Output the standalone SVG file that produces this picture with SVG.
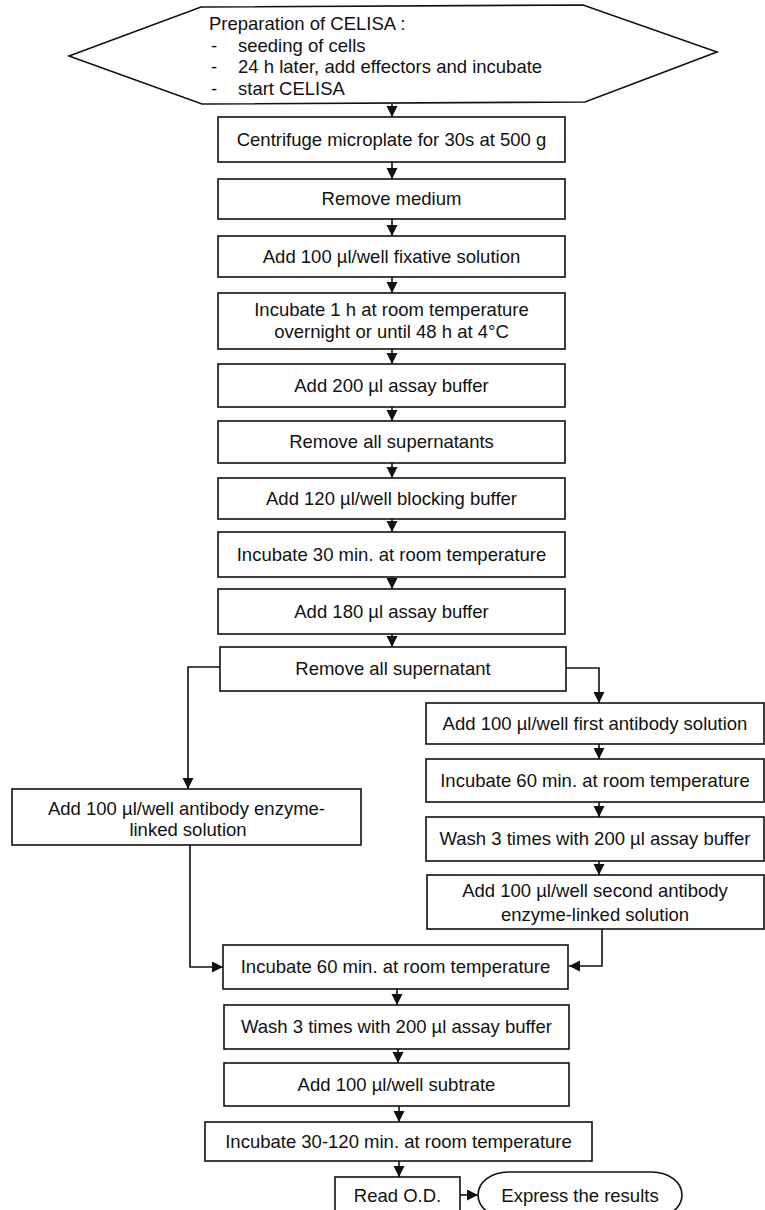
<svg xmlns="http://www.w3.org/2000/svg" width="765" height="1210" viewBox="0 0 765 1210">
<style>
.b{fill:#fff;stroke:#111;stroke-width:1.6}
.t{font-family:"Liberation Sans",Arial,sans-serif;font-size:18.5px;fill:#111;text-anchor:middle}
.l{font-family:"Liberation Sans",Arial,sans-serif;font-size:18.5px;fill:#111}
.c{fill:none;stroke:#111;stroke-width:1.6;marker-end:url(#a)}
</style>
<defs>
<marker id="a" markerUnits="userSpaceOnUse" markerWidth="12" markerHeight="12" refX="11" refY="5.5" orient="auto">
<path d="M0,0 L11,5.5 L0,11 z" fill="#111"/>
</marker>
</defs>
<rect width="765" height="1210" fill="#fff"/>
<g id="connectors">
<path class="c" d="M392,104 V117"/>
<path class="c" d="M392,162 V179"/>
<path class="c" d="M392,219 V236"/>
<path class="c" d="M392,277 V293"/>
<path class="c" d="M392,349 V364"/>
<path class="c" d="M392,407 V421"/>
<path class="c" d="M392,463 V478"/>
<path class="c" d="M392,519 V532"/>
<path class="c" d="M392,577 V589"/>
<path class="c" d="M392,634 V647"/>
<path class="c" d="M220,667 H188 V789"/>
<path class="c" d="M566,668 H599 V703"/>
<path class="c" d="M599,744 V759"/>
<path class="c" d="M599,802 V817"/>
<path class="c" d="M599,861 V875"/>
<path class="c" d="M190,845 V967 H223"/>
<path class="c" d="M602,929 V966 H569"/>
<path class="c" d="M397,989 V1005"/>
<path class="c" d="M398,1049 V1063"/>
<path class="c" d="M399,1106 V1122"/>
<path class="c" d="M399,1161 V1177"/>
<path class="c" d="M460,1195 H478"/>
</g>
<g id="n0">
<polygon class="b" points="69,56 201,7 583,5 717,52 585,102 202,104"/>
<text class="l" x="209" y="30">Preparation of CELISA :</text>
<text class="l" x="211" y="52">-</text><text class="l" x="238" y="52">seeding of cells</text>
<text class="l" x="211" y="73">-</text><text class="l" x="238" y="73">24 h later, add effectors and incubate</text>
<text class="l" x="211" y="95">-</text><text class="l" x="238" y="95">start CELISA</text>
</g>
<g id="n1"><rect class="b" x="218" y="117" width="347" height="45"/><text class="t" x="391.5" y="146">Centrifuge microplate for 30s at 500 g</text></g>
<g id="n2"><rect class="b" x="218" y="179" width="347" height="40"/><text class="t" x="391.5" y="205">Remove medium</text></g>
<g id="n3"><rect class="b" x="218" y="236" width="347" height="41"/><text class="t" x="391.5" y="263">Add 100 µl/well fixative solution</text></g>
<g id="n4"><rect class="b" x="218" y="293" width="347" height="56"/><text class="t" x="391.5" y="316">Incubate 1 h at room temperature</text><text class="t" x="391.5" y="338">overnight or until 48 h at 4°C</text></g>
<g id="n5"><rect class="b" x="218" y="364" width="347" height="43"/><text class="t" x="391.5" y="392">Add 200 µl assay buffer</text></g>
<g id="n6"><rect class="b" x="218" y="421" width="347" height="42"/><text class="t" x="391.5" y="448">Remove all supernatants</text></g>
<g id="n7"><rect class="b" x="218" y="478" width="347" height="41"/><text class="t" x="391.5" y="505">Add 120 µl/well blocking buffer</text></g>
<g id="n8"><rect class="b" x="218" y="532" width="347" height="45"/><text class="t" x="391.5" y="561">Incubate 30 min. at room temperature</text></g>
<g id="n9"><rect class="b" x="218" y="589" width="347" height="45"/><text class="t" x="391.5" y="618">Add 180 µl assay buffer</text></g>
<g id="n10"><rect class="b" x="220" y="647" width="346" height="44"/><text class="t" x="393" y="675">Remove all supernatant</text></g>
<g id="n11"><rect class="b" x="12" y="789" width="349" height="56"/><text class="t" x="186.5" y="815">Add 100 µl/well antibody enzyme-</text><text class="t" x="188" y="836">linked solution</text></g>
<g id="n12"><rect class="b" x="426" y="703" width="338" height="41"/><text class="t" x="595" y="730">Add 100 µl/well first antibody solution</text></g>
<g id="n13"><rect class="b" x="426" y="759" width="338" height="43"/><text class="t" x="595" y="787">Incubate 60 min. at room temperature</text></g>
<g id="n14"><rect class="b" x="426" y="817" width="338" height="44"/><text class="t" x="595" y="845">Wash 3 times with 200 µl assay buffer</text></g>
<g id="n15"><rect class="b" x="427" y="875" width="337" height="54"/><text class="t" x="595" y="897">Add 100 µl/well second antibody</text><text class="t" x="595" y="921">enzyme-linked solution</text></g>
<g id="n16"><rect class="b" x="223" y="945" width="345" height="44"/><text class="t" x="395.5" y="973">Incubate 60 min. at room temperature</text></g>
<g id="n17"><rect class="b" x="224" y="1005" width="345" height="44"/><text class="t" x="396.5" y="1033">Wash 3 times with 200 µl assay buffer</text></g>
<g id="n18"><rect class="b" x="224" y="1063" width="345" height="43"/><text class="t" x="396.5" y="1091">Add 100 µl/well subtrate</text></g>
<g id="n19"><rect class="b" x="205" y="1122" width="387" height="39"/><text class="t" x="398.5" y="1148">Incubate 30-120 min. at room temperature</text></g>
<g id="n20"><rect class="b" x="335" y="1177" width="125" height="40"/><text class="t" x="397.5" y="1202">Read O.D.</text></g>
<g id="n21"><rect class="b" x="478" y="1172" width="204" height="46" rx="30" ry="23"/><text class="t" x="580" y="1202">Express the results</text></g>
</svg>
